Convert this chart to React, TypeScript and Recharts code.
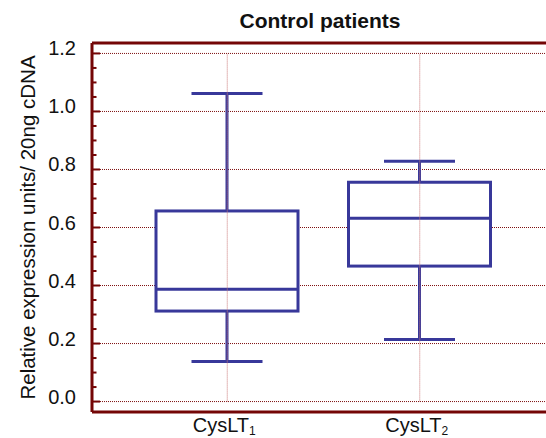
import { ComposedChart, Bar, XAxis, YAxis, CartesianGrid, ReferenceLine, Label } from 'recharts';

const categories = ['CysLT1', 'CysLT2'];
const mins = [0.138, 0.214];
const q1s = [0.312, 0.467];
const medians = [0.387, 0.632];
const q3s = [0.657, 0.756];
const maxs = [1.062, 0.828];

const majorTicks = [0, 0.2, 0.4, 0.6, 0.8, 1.0, 1.2];
const minorTicks = [
  0, 0.05, 0.1, 0.15, 0.2, 0.25, 0.3, 0.35, 0.4, 0.45, 0.5, 0.55, 0.6,
  0.65, 0.7, 0.75, 0.8, 0.85, 0.9, 0.95, 1.0, 1.05, 1.1, 1.15, 1.2,
];
const yDomain: [number, number] = [-0.036, 1.236];

const data = categories.map((name, i) => ({
  name,
  base: mins[i],
  lowWhisker: q1s[i] - mins[i],
  box: q3s[i] - q1s[i],
  highWhisker: maxs[i] - q3s[i],
  q1: q1s[i],
  median: medians[i],
  q3: q3s[i],
}));

const AXIS = '#740606';
const BLUE = '#38389a';
const FONT = '"Liberation Sans", Arial, sans-serif';
const Y_TICK_MARGIN = 16;

const BoxShape = (props: any) => {
  const { x, y, width, height, payload } = props;
  const my = y + (height * (payload.q3 - payload.median)) / (payload.q3 - payload.q1);
  return (
    <g>
      <rect x={x} y={y} width={width} height={height} fill="#fff" stroke={BLUE} strokeWidth={3} />
      <line x1={x} x2={x + width} y1={my} y2={my} stroke={BLUE} strokeWidth={3} />
    </g>
  );
};

const LowWhisker = (props: any) => {
  const { x, y, width, height } = props;
  const cx = x + width / 2;
  return (
    <g>
      <line x1={cx} x2={cx} y1={y} y2={y + height} stroke={BLUE} strokeWidth={3} />
      <line x1={x + width / 4} x2={x + (3 * width) / 4} y1={y + height} y2={y + height} stroke={BLUE} strokeWidth={3} />
    </g>
  );
};

const HighWhisker = (props: any) => {
  const { x, y, width, height } = props;
  const cx = x + width / 2;
  return (
    <g>
      <line x1={cx} x2={cx} y1={y} y2={y + height} stroke={BLUE} strokeWidth={3} />
      <line x1={x + width / 4} x2={x + (3 * width) / 4} y1={y} y2={y} stroke={BLUE} strokeWidth={3} />
    </g>
  );
};

const CategoryTick = (props: any) => {
  const { x, y, payload } = props;
  const label = String(payload.value);
  return (
    <text x={x} y={y - 1} dy="0.71em" dx={-3} textAnchor="middle" fill="#111" fontSize={20} fontFamily={FONT}>
      {label.slice(0, -1)}
      <tspan fontSize={12} dy={3}>{label.slice(-1)}</tspan>
    </text>
  );
};

// inward tick marks (long on majors, short on minors) + labels on majors
const ValueTick = (props: any) => {
  const { x, y, payload } = props;
  const v = payload.value as number;
  const isMajor = majorTicks.some((t) => Math.abs(t - v) < 1e-6);
  const ax = x + Y_TICK_MARGIN;
  return (
    <g>
      <line x1={ax} x2={ax + (isMajor ? 8 : 4.5)} y1={y} y2={y} stroke={AXIS} strokeWidth={2} />
      {isMajor && (
        <text x={x} y={y} dy={2} textAnchor="end" fill="#111" fontSize={20} fontFamily={FONT}>
          {v.toFixed(1)}
        </text>
      )}
    </g>
  );
};

export default function App() {
  return (
    <div
      style={{
        position: 'fixed',
        left: 0,
        top: 0,
        width: 546,
        height: 438,
        overflow: 'hidden',
        background: '#fff',
        fontFamily: FONT,
      }}
    >
      <div
        style={{
          position: 'absolute',
          left: 0,
          top: 10,
          width: 640,
          textAlign: 'center',
          fontSize: 21,
          lineHeight: '21px',
          fontWeight: 'bold',
          color: '#111',
        }}
      >
        Control patients
      </div>
      <ComposedChart width={555} height={438} data={data} margin={{ top: 43, right: 0, bottom: 0, left: 0 }}>
        <CartesianGrid vertical={false} horizontalValues={majorTicks} stroke="#7e1010" strokeDasharray="1 1" />
        {categories.map((c) => (
          <ReferenceLine
            key={c}
            segment={[{ x: c, y: 0 }, { x: c, y: 1.2 }]}
            stroke="#c97878"
            strokeDasharray="1 1"
          />
        ))}
        <XAxis
          dataKey="name"
          padding={{ left: 39, right: 39 }}
          axisLine={{ stroke: AXIS, strokeWidth: 3 }}
          tickLine={false}
          tickSize={6}
          tickMargin={1}
          height={26}
          interval={0}
          tick={<CategoryTick />}
        />
        <YAxis
          type="number"
          domain={yDomain}
          ticks={minorTicks}
          interval={0}
          allowDataOverflow
          width={92}
          axisLine={{ stroke: AXIS, strokeWidth: 3 }}
          tickLine={false}
          tickSize={0}
          tickMargin={Y_TICK_MARGIN}
          tick={<ValueTick />}
        >
          <Label
            value="Relative expression units/ 20ng cDNA"
            angle={-90}
            position="insideLeft"
            offset={21}
            dx={7}
            style={{ textAnchor: 'middle', fontSize: 20.5, fontFamily: FONT, fill: '#111' }}
          />
        </YAxis>
        <ReferenceLine y={yDomain[1]} stroke={AXIS} strokeWidth={3} />
        <Bar dataKey="base" stackId="b" fill="transparent" barSize={142} isAnimationActive={false} />
        <Bar dataKey="lowWhisker" stackId="b" barSize={142} shape={<LowWhisker />} isAnimationActive={false} />
        <Bar dataKey="box" stackId="b" barSize={142} shape={<BoxShape />} isAnimationActive={false} />
        <Bar dataKey="highWhisker" stackId="b" barSize={142} shape={<HighWhisker />} isAnimationActive={false} />
      </ComposedChart>
    </div>
  );
}
